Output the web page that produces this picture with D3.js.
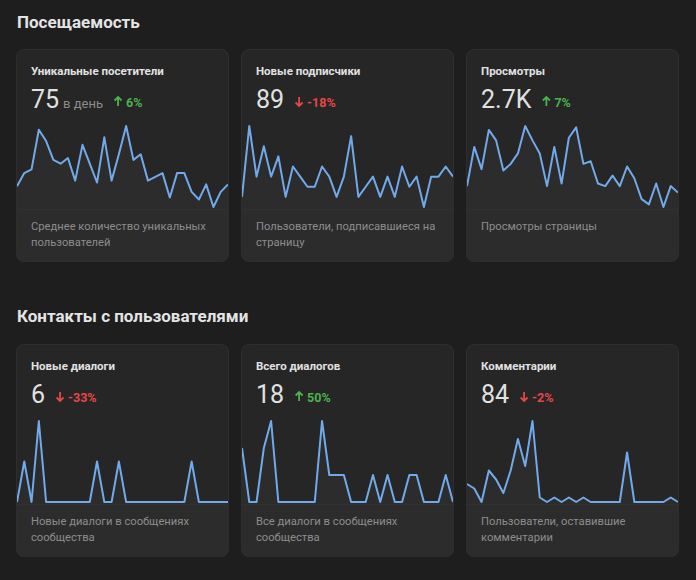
<!DOCTYPE html>
<html>
<head>
<meta charset="utf-8">
<script src="https://cdn.jsdelivr.net/npm/d3@7"></script>
<style>
  html, body { margin: 0; padding: 0; background: #1e1e1e; }
  svg { display: block; font-family: Roboto, "Open Sans", sans-serif; }
</style>
</head>
<body>
<div id="chart"></div>
<script>
// Заголовки разделов
const sectionTitles = ["Посещаемость", "Контакты с пользователями"];

// Карточки
const cardTitles = ["Уникальные посетители", "Новые подписчики", "Просмотры",
                    "Новые диалоги", "Всего диалогов", "Комментарии"];
const cardValues = ["75", "89", "2.7K", "6", "18", "84"];
const cardUnits = ["в день", "", "", "", "", ""];
const cardChanges = [6, -18, 7, -33, 50, -2];
const cardNotes = [
  ["Среднее количество уникальных", "пользователей"],
  ["Пользователи, подписавшиеся на", "страницу"],
  ["Просмотры страницы"],
  ["Новые диалоги в сообщениях", "сообщества"],
  ["Все диалоги в сообщениях", "сообщества"],
  ["Пользователи, оставившие", "комментарии"]
];

// Значения по дням (30 дней)
const visitors = [66, 73, 75, 96, 90, 80, 78, 81, 69, 88, 78, 68, 92, 69, 83,
                  98, 80, 83, 69, 71, 73, 60, 73, 73, 63, 59, 67, 55, 63, 67];
const subscribers = [1, 8, 3, 6, 3, 5, 1, 4, 3, 2, 2, 4, 3, 1, 3,
                     7, 1, 2, 3, 1, 3, 1, 4, 2, 3, 0, 3, 3, 4, 3];
const views = [76, 106, 89, 119, 111, 88, 93, 101, 122, 111, 101, 76, 106, 78, 113,
               121, 93, 95, 78, 76, 84, 76, 91, 82, 66, 62, 78, 60, 76, 71];
const newDialogs = [0, 1, 0, 2, 0, 0, 0, 0, 0, 0, 0, 1, 0, 0, 1,
                    0, 0, 0, 0, 0, 0, 0, 0, 0, 1, 0, 0, 0, 0, 0];
const allDialogs = [2, 0, 0, 2, 3, 0, 0, 0, 0, 0, 0, 3, 1, 1, 1,
                    0, 0, 0, 1, 0, 1, 0, 0, 1, 1, 0, 0, 0, 1, 0];
const comments = [4, 3, 0, 7, 5, 2, 7, 14, 8, 18, 1, 0, 1, 0, 1,
                  0, 1, 0, 0, 0, 0, 0, 11, 0, 0, 0, 0, 0, 1, 0];

const series = [visitors, subscribers, views, newDialogs, allDialogs, comments];

const width = 696, height = 580;
const cardW = 213, cardH = 213;
const colX = [16, 241, 466];
const rowY = [49, 344];
const headY = [28, 322];

const svg = d3.select("#chart").append("svg")
  .attr("width", width)
  .attr("height", height);

svg.append("rect")
  .attr("width", width).attr("height", height)
  .attr("fill", "#1e1e1e");

sectionTitles.forEach((t, i) => {
  svg.append("text")
    .attr("x", 17).attr("y", headY[i])
    .attr("fill", "#e4e4e4")
    .style("font-size", "17px")
    .style("font-weight", 700)
    .text(t);
});

const green = "#4bb34b", red = "#e64646";

series.forEach((data, i) => {
  const cx = colX[i % 3], cy = rowY[Math.floor(i / 3)];
  const g = svg.append("g").attr("transform", `translate(${cx},${cy})`);
  const clipId = "clip" + i;

  g.append("clipPath").attr("id", clipId)
    .append("rect")
    .attr("width", cardW).attr("height", cardH).attr("rx", 8);

  const inner = g.append("g").attr("clip-path", `url(#${clipId})`);

  inner.append("rect")
    .attr("width", cardW).attr("height", cardH)
    .attr("fill", "#262626");

  const chartBottom = 160;
  const x = d3.scaleLinear().domain([0, data.length - 1]).range([1, cardW - 1]);
  const y = d3.scaleLinear().domain(d3.extent(data)).range([158, 77]);

  // нижняя часть карточки
  inner.append("rect")
    .attr("y", chartBottom).attr("width", cardW).attr("height", cardH - chartBottom)
    .attr("fill", "#2c2c2c");

  const area = d3.area()
    .x((d, k) => x(k))
    .y0(chartBottom)
    .y1(d => y(d));

  inner.append("path")
    .datum(data)
    .attr("fill", "#2c2c2c")
    .attr("d", area);

  inner.append("line")
    .attr("x1", 0).attr("x2", cardW)
    .attr("y1", chartBottom + 0.5).attr("y2", chartBottom + 0.5)
    .attr("stroke", "#303030");

  const line = d3.line()
    .x((d, k) => x(k))
    .y(d => y(d));

  inner.append("path")
    .datum(data)
    .attr("fill", "none")
    .attr("stroke", "#71aaeb")
    .attr("stroke-width", 2)
    .attr("stroke-linejoin", "round")
    .attr("d", line);

  g.append("rect")
    .attr("x", 0.5).attr("y", 0.5)
    .attr("width", cardW - 1).attr("height", cardH - 1)
    .attr("rx", 8)
    .attr("fill", "none")
    .attr("stroke", "#2e2e2e");

  // тексты
  g.append("text")
    .attr("x", 15).attr("y", 26)
    .attr("fill", "#e1e1e1")
    .style("font-size", "11.5px")
    .style("font-weight", 700)
    .text(cardTitles[i]);

  const num = g.append("text")
    .attr("x", 15).attr("y", 59)
    .attr("fill", "#e1e1e1")
    .style("font-size", "25px")
    .text(cardValues[i]);
  let endX = 15 + num.node().getComputedTextLength();

  if (cardUnits[i]) {
    const unit = g.append("text")
      .attr("x", endX + 4).attr("y", 59)
      .attr("fill", "#8c8c8c")
      .style("font-size", "13px")
      .text(cardUnits[i]);
    endX = endX + 4 + unit.node().getComputedTextLength();
  }

  const ch = cardChanges[i];
  const col = ch >= 0 ? green : red;
  const ax = endX + 15, base = 58;
  const arrow = ch >= 0
    ? `M${ax},${base - 1}V${base - 10}M${ax - 3.5},${base - 6.5}L${ax},${base - 10}L${ax + 3.5},${base - 6.5}`
    : `M${ax},${base - 10}V${base - 1}M${ax - 3.5},${base - 4.5}L${ax},${base - 1}L${ax + 3.5},${base - 4.5}`;
  g.append("path")
    .attr("d", arrow)
    .attr("fill", "none")
    .attr("stroke", col)
    .attr("stroke-width", 1.8);

  g.append("text")
    .attr("x", ax + 8).attr("y", base)
    .attr("fill", col)
    .style("font-size", "12.5px")
    .style("font-weight", 700)
    .text(ch + "%");

  cardNotes[i].forEach((s, k) => {
    g.append("text")
      .attr("x", 15).attr("y", 181 + k * 16)
      .attr("fill", "#8c8c8c")
      .style("font-size", "11.2px")
      .text(s);
  });
});
</script>
</body>
</html>
